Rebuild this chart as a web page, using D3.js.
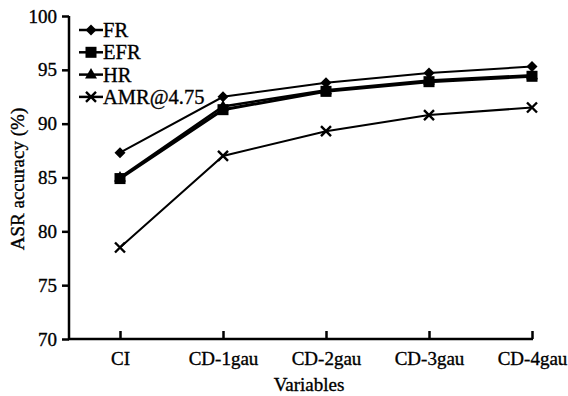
<!DOCTYPE html>
<html>
<head>
<meta charset="utf-8">
<script src="https://cdn.jsdelivr.net/npm/d3@7"></script>
<style>
  body { margin: 0; background: #fff; }
  svg text { font-family: "Liberation Serif", "DejaVu Serif", serif; fill: #000; stroke: #000; stroke-width: 0.35px; }
</style>
</head>
<body>
<svg id="chart"></svg>
<script>
const categories = ['CI', 'CD-1gau', 'CD-2gau', 'CD-3gau', 'CD-4gau'];
const seriesNames = ['FR', 'EFR', 'HR', 'AMR@4.75'];
const frValues = [87.3, 92.5, 93.8, 94.7, 95.3];
const efrValues = [84.9, 91.3, 93.0, 93.9, 94.4];
const hrValues = [85.0, 91.6, 93.1, 94.0, 94.5];
const amrValues = [78.5, 87.0, 89.3, 90.8, 91.5];
const yTicks = [70, 75, 80, 85, 90, 95, 100];

const width = 568, height = 396;
const fontSize = '19px';
const svg = d3.select('#chart').attr('width', width).attr('height', height);

// Scales
const x = d3.scalePoint().domain(categories).range([120, 532]);
const y = d3.scaleLinear().domain([70, 100]).range([339, 16]);
const axisLeftX = 69;

const series = [
  { name: seriesNames[0], values: frValues, marker: 'diamond', width: 2 },
  { name: seriesNames[1], values: efrValues, marker: 'square', width: 3 },
  { name: seriesNames[2], values: hrValues, marker: 'triangle', width: 2.5 },
  { name: seriesNames[3], values: amrValues, marker: 'cross', width: 2 }
];

// Axes
const yAxis = svg.append('g')
  .attr('transform', `translate(${axisLeftX},0)`)
  .call(d3.axisLeft(y).tickValues(yTicks).tickSize(7).tickPadding(5));
const xAxis = svg.append('g')
  .attr('transform', `translate(0,${y(70)})`)
  .call(d3.axisBottom(x).tickSize(-8).tickSizeOuter(0).tickPadding(13));

[yAxis, xAxis].forEach(g => {
  g.select('.domain').remove();
  g.selectAll('line').attr('stroke', '#000').attr('stroke-width', 2.5);
  g.selectAll('text').style('font-size', fontSize).attr('fill', '#000');
});

svg.append('line')
  .attr('x1', axisLeftX).attr('x2', axisLeftX)
  .attr('y1', y(100)).attr('y2', y(70) + 1)
  .attr('stroke', '#000').attr('stroke-width', 2.5);
svg.append('line')
  .attr('x1', axisLeftX - 1).attr('x2', x('CD-4gau') + 1)
  .attr('y1', y(70)).attr('y2', y(70))
  .attr('stroke', '#000').attr('stroke-width', 2.5);

// Axis titles
svg.append('text')
  .attr('x', 309).attr('y', 391)
  .attr('text-anchor', 'middle')
  .style('font-size', fontSize)
  .text('Variables');
svg.append('text')
  .attr('transform', `translate(24,179) rotate(-90)`)
  .attr('text-anchor', 'middle')
  .style('font-size', fontSize)
  .text('ASR accuracy (%)');

// Markers
function drawMarker(g, type, cx, cy) {
  if (type === 'diamond') {
    g.append('path').attr('d', `M${cx},${cy - 5.5}L${cx + 5.5},${cy}L${cx},${cy + 5.5}L${cx - 5.5},${cy}Z`).attr('fill', '#000');
  } else if (type === 'square') {
    g.append('rect').attr('x', cx - 5.5).attr('y', cy - 5.5).attr('width', 11).attr('height', 11).attr('fill', '#000');
  } else if (type === 'triangle') {
    g.append('path').attr('d', `M${cx},${cy - 6.5}L${cx + 6},${cy + 4}L${cx - 6},${cy + 4}Z`).attr('fill', '#000');
  } else {
    g.append('path').attr('d', `M${cx - 5},${cy - 5}L${cx + 5},${cy + 5}M${cx + 5},${cy - 5}L${cx - 5},${cy + 5}`)
      .attr('stroke', '#000').attr('stroke-width', 2.4);
  }
}

// Lines
const line = d3.line().x((d, i) => x(categories[i])).y(d => y(d));
series.forEach(s => {
  const g = svg.append('g');
  g.append('path')
    .datum(s.values)
    .attr('d', line)
    .attr('fill', 'none')
    .attr('stroke', '#000')
    .attr('stroke-width', s.width);
  s.values.forEach((v, i) => drawMarker(g, s.marker, x(categories[i]), y(v)));
});

// Legend
const legend = svg.append('g').attr('transform', 'translate(79,30)');
series.forEach((s, i) => {
  const row = legend.append('g').attr('transform', `translate(0,${i * 22.3})`);
  row.append('line').attr('x1', 0).attr('x2', 24).attr('y1', 0).attr('y2', 0)
    .attr('stroke', '#000').attr('stroke-width', 2.5);
  drawMarker(row, s.marker, 12, 0);
  row.append('text').attr('x', 24).attr('y', 7)
    .style('font-size', '20.5px')
    .text(s.name);
});
</script>
</body>
</html>
